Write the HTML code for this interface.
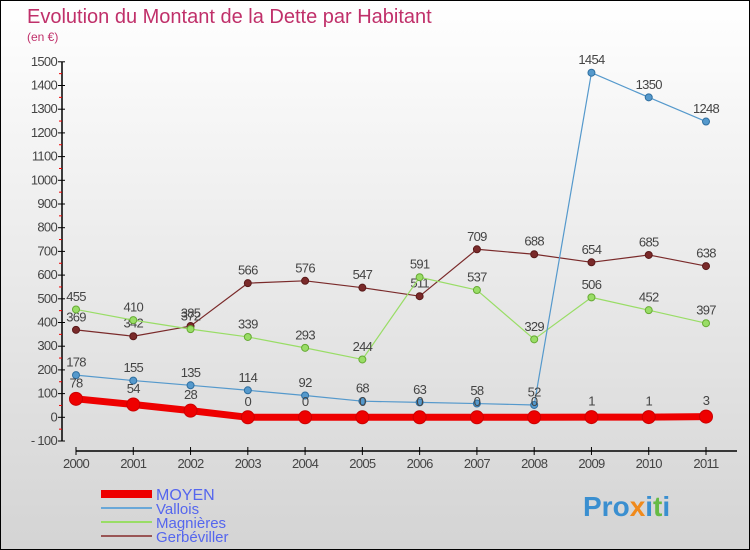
<!DOCTYPE html>
<html><head><meta charset="utf-8"><style>
body{margin:0}
#c{width:750px;height:550px;position:relative;box-sizing:border-box;border:1px solid #000;background:linear-gradient(#ffffff,#d4d4d4);font-family:"Liberation Sans",sans-serif;overflow:hidden}
svg text{font-family:"Liberation Sans",sans-serif}
</style></head><body>
<div id="c">
<svg id="s" width="750" height="550">
<text x="26" y="22" font-size="20" fill="#c0306a">Evolution du Montant de la Dette par Habitant</text>
<text x="26" y="40" font-size="12" fill="#c0306a">(en €)</text>
<text x="582" y="515" font-size="28" font-weight="bold" fill="#3a8fd0">Pro<tspan fill="#f08a1c">x</tspan><tspan fill="#3a8fd0">i</tspan><tspan fill="#66bb44">t</tspan>i</text>
</svg>
</div>
<script>
const years=["2000","2001","2002","2003","2004","2005","2006","2007","2008","2009","2010","2011"];
const moyen=[78,54,28,0,0,0,0,0,0,1,1,3];
const vallois=[178,155,135,114,92,68,63,58,52,1454,1350,1248];
const magnieres=[455,410,372,339,293,244,591,537,329,506,452,397];
const gerbeviller=[369,342,385,566,576,547,511,709,688,654,685,638];
const yTicks=[-100,0,100,200,300,400,500,600,700,800,900,1000,1100,1200,1300,1400,1500];
const NS="http://www.w3.org/2000/svg",s=document.getElementById('s');
const X=i=>75+i*(630/11), Y=v=>416.3-v*0.237;
function mk(t,a,p){const e=document.createElementNS(NS,t);for(const k in a)e.setAttribute(k,a[k]);(p||s).appendChild(e);return e;}
let ax=mk('line',{x1:61,y1:Y(1500),x2:61,y2:Y(-100),stroke:'#000','stroke-width':1.5});


yTicks.forEach(v=>{
 mk('line',{x1:57,y1:Y(v),x2:64,y2:Y(v),stroke:'#000'});
 if(v<1500) mk('line',{x1:58,y1:Y(v+50),x2:61,y2:Y(v+50),stroke:'#e00'});
 const t=mk('text',{x:56,y:Y(v)+4,'font-size':13,fill:'#444','text-anchor':'end','letter-spacing':'-0.7'});
 t.textContent=v<0?'- '+(-v):v;
 
 
});
let xa=mk('line',{x1:75,y1:450,x2:736,y2:450,stroke:'#000','stroke-width':1.5});


years.forEach((y,i)=>{
 mk('line',{x1:X(i),y1:446,x2:X(i),y2:454,stroke:'#000'});
 const t=mk('text',{x:X(i),y:467,'font-size':13,fill:'#444','text-anchor':'middle','letter-spacing':'-0.7'});
 t.textContent=y;
 
 
});
function series(d,col,dark,w,r,name){
 const g=mk('g',{});
 
 
 mk('polyline',{points:d.map((v,i)=>X(i)+','+Y(v)).join(' '),fill:'none',stroke:col,'stroke-width':w,'stroke-linejoin':'round'},g);
 d.forEach((v,i)=>{
  const c=mk('circle',{cx:X(i),cy:Y(v),r:r,fill:col,stroke:dark,'stroke-width':1},g);
  
  
  const t=mk('text',{x:X(i),y:Y(v)-(r+5),'font-size':13,fill:'#444','text-anchor':'middle','letter-spacing':'-0.7'},g);
  t.textContent=v;
  
  
 });
}
series(gerbeviller,'#7a2a2a','#5a1a1a',1.2,3.5,'gerbeviller');
series(magnieres,'#99dd66','#66aa33',1.2,3.5,'magnieres');
series(vallois,'#5599cc','#2f6fa0',1.2,3.5,'vallois');
series(moyen,'#ee0000','#cc0000',7,6.5,'moyen');
const leg=[['MOYEN','#ee0000',8],['Vallois','#6aa8d8',2],['Magnières','#99dd66',2],['Gerbéviller','#995555',2]];
leg.forEach((l,i)=>{
 const y=493+i*14;
 const g=mk('g',{});
 
 
 mk('line',{x1:100,y1:y,x2:151,y2:y,stroke:l[1],'stroke-width':l[2]},g);
 const t=mk('text',{x:155,y:y+6,'font-size':i==0?16:15,fill:'#5566ee'},g);
 t.textContent=l[0];
});
</script>
</body></html>
